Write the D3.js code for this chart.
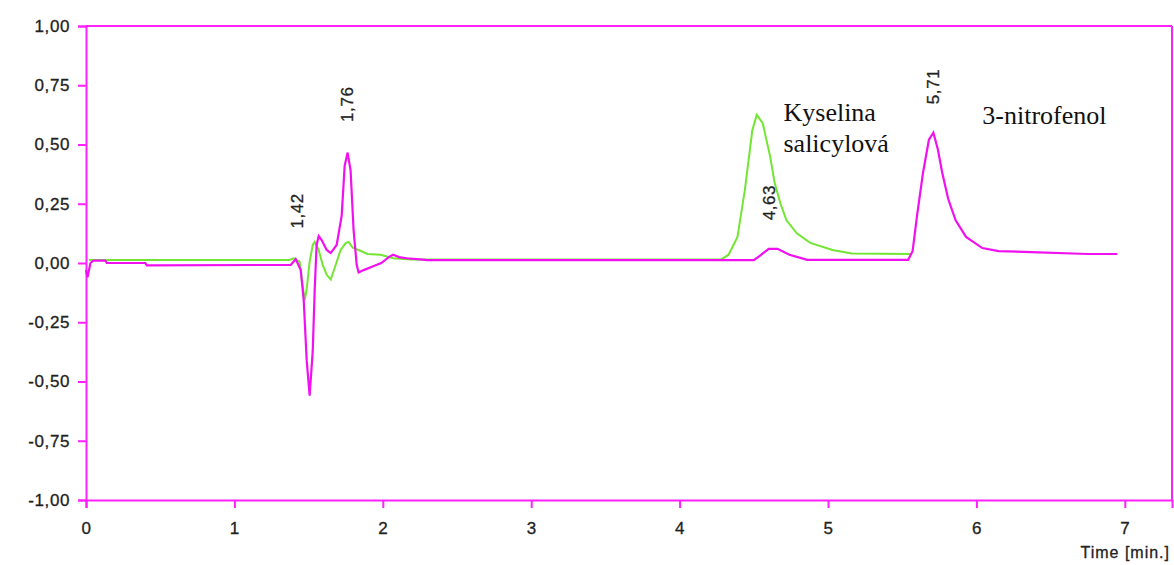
<!DOCTYPE html>
<html><head><meta charset="utf-8">
<script src="https://cdn.jsdelivr.net/npm/d3@7"></script>
<style>html,body{margin:0;padding:0;background:#fff;} svg{display:block;}</style>
</head><body>
<svg id="c" width="1174" height="565"></svg>
<script>
// ---- data ----
const yTicks = [-1, -0.75, -0.5, -0.25, 0, 0.25, 0.5, 0.75, 1];
const xTicks = [0, 1, 2, 3, 4, 5, 6, 7];
const xLabel = "Time [min.]";

const magentaT = [0, 0.01, 0.03, 0.05, 0.13, 0.14, 0.40, 0.41, 1.38, 1.413, 1.447, 1.467, 1.487, 1.507, 1.528, 1.541, 1.554, 1.568, 1.588, 1.622, 1.649, 1.689, 1.723, 1.743, 1.763, 1.783, 1.803, 1.824, 1.837, 1.871, 1.931, 1.99, 2.04, 2.07, 2.11, 2.16, 2.25, 2.3, 4.5, 4.54, 4.6, 4.66, 4.74, 4.86, 5.54, 5.57, 5.60, 5.64, 5.68, 5.71, 5.74, 5.77, 5.81, 5.86, 5.93, 6.04, 6.15, 6.37, 6.75, 6.95];
const magentaV = [-0.03, -0.06, 0.0, 0.01, 0.01, 0.0, 0.0, -0.01, -0.008, 0.017, -0.03, -0.156, -0.41, -0.56, -0.37, -0.114, 0.076, 0.114, 0.097, 0.055, 0.042, 0.076, 0.2, 0.41, 0.466, 0.39, 0.14, -0.008, -0.04, -0.03, -0.015, 0.0, 0.025, 0.035, 0.025, 0.02, 0.015, 0.012, 0.012, 0.03, 0.06, 0.06, 0.035, 0.013, 0.013, 0.05, 0.2, 0.38, 0.52, 0.55, 0.48, 0.38, 0.27, 0.18, 0.11, 0.063, 0.05, 0.046, 0.038, 0.038];

const greenT = [0.02, 1.37, 1.40, 1.44, 1.454, 1.474, 1.487, 1.507, 1.528, 1.541, 1.568, 1.595, 1.622, 1.649, 1.676, 1.716, 1.75, 1.77, 1.797, 1.837, 1.898, 1.985, 2.07, 2.19, 4.28, 4.33, 4.39, 4.44, 4.49, 4.52, 4.56, 4.61, 4.64, 4.68, 4.72, 4.79, 4.88, 5.03, 5.16, 5.56];
const greenV = [0.013, 0.013, 0.02, 0.005, -0.07, -0.156, -0.11, 0.005, 0.076, 0.089, 0.055, -0.008, -0.05, -0.07, -0.02, 0.055, 0.084, 0.089, 0.065, 0.055, 0.038, 0.035, 0.02, 0.015, 0.015, 0.035, 0.11, 0.31, 0.56, 0.625, 0.59, 0.45, 0.34, 0.25, 0.18, 0.125, 0.085, 0.055, 0.04, 0.038];

const peakLabels = [
  {t: 1.42, v: 0.22, text: "1,42"},
  {t: 1.76, v: 0.67, text: "1,76"},
  {t: 4.60, v: 0.255, text: "4,63"},
  {t: 5.71, v: 0.745, text: "5,71"}
];
const compoundLabels = [
  {t: 4.70, v: 0.60, lines: ["Kyselina", "salicylová"]},
  {t: 6.04, v: 0.585, lines: ["3-nitrofenol"]}
];

// ---- drawing ----
const svg = d3.select("#c");
const x = d3.scaleLinear().domain([0, 7.318]).range([86, 1172]);
const y = d3.scaleLinear().domain([-1, 1]).range([500, 26]);
const frameColor = "#ff22ff";
const sans = "'Liberation Sans', Arial, sans-serif";
const fmt = d => d3.format(".2f")(d).replace(".", ",").replace("−", "-");

const yAxis = svg.append("g").attr("transform", "translate(86,0)")
  .call(d3.axisLeft(y).tickValues(yTicks).tickSize(8).tickPadding(8).tickFormat(fmt));
const xAxis = svg.append("g").attr("transform", "translate(0,500)")
  .call(d3.axisBottom(x).tickValues(xTicks).tickSize(8).tickPadding(14).tickFormat(d3.format("d")));
[yAxis, xAxis].forEach(g => {
  g.select(".domain").attr("stroke", frameColor).attr("stroke-width", 2);
  g.selectAll(".tick line").attr("stroke", frameColor).attr("stroke-width", 2);
  g.selectAll(".tick text").attr("fill", "#222").attr("stroke", "#222").attr("stroke-width", 0.3)
    .style("font-family", sans).style("font-size", "17px").style("letter-spacing", "0.6px");
});
svg.append("line").attr("x1", x(0)).attr("x2", x(7.318)).attr("y1", y(1)).attr("y2", y(1))
  .attr("stroke", frameColor).attr("stroke-width", 2);
svg.append("line").attr("x1", x(7.318)).attr("x2", x(7.318)).attr("y1", y(1)).attr("y2", y(-1))
  .attr("stroke", frameColor).attr("stroke-width", 2);

svg.append("text").attr("x", 1170).attr("y", 558).attr("text-anchor", "end")
  .attr("fill", "#222").attr("stroke", "#222").attr("stroke-width", 0.3).style("font-family", sans)
  .style("font-size", "16px").style("letter-spacing", "1px").text(xLabel);

const line = d3.line().x(d => x(d[0])).y(d => y(d[1]));
svg.append("path").datum(greenT.map((t, i) => [t, greenV[i]]))
  .attr("d", line).attr("fill", "none").attr("stroke", "#72e632").attr("stroke-width", 2);
svg.append("path").datum(magentaT.map((t, i) => [t, magentaV[i]]))
  .attr("d", line).attr("fill", "none").attr("stroke", "#f010f0").attr("stroke-width", 2.2);

peakLabels.forEach(p => {
  svg.append("text")
    .attr("transform", `translate(${x(p.t) + 6},${y(p.v)}) rotate(-90)`)
    .attr("text-anchor", "middle").attr("fill", "#222").attr("stroke", "#222").attr("stroke-width", 0.3)
    .style("font-family", sans).style("font-size", "17px")
    .style("letter-spacing", "0.6px").text(p.text);
});
compoundLabels.forEach(c => {
  const tx = svg.append("text").attr("x", x(c.t)).attr("y", y(c.v))
    .attr("fill", "#111").style("font-family", "'Liberation Serif', 'Times New Roman', serif")
    .style("font-size", "26px");
  c.lines.forEach((l, i) => tx.append("tspan").attr("x", x(c.t)).attr("dy", i ? 31 : 0).text(l));
});
</script>
</body></html>
